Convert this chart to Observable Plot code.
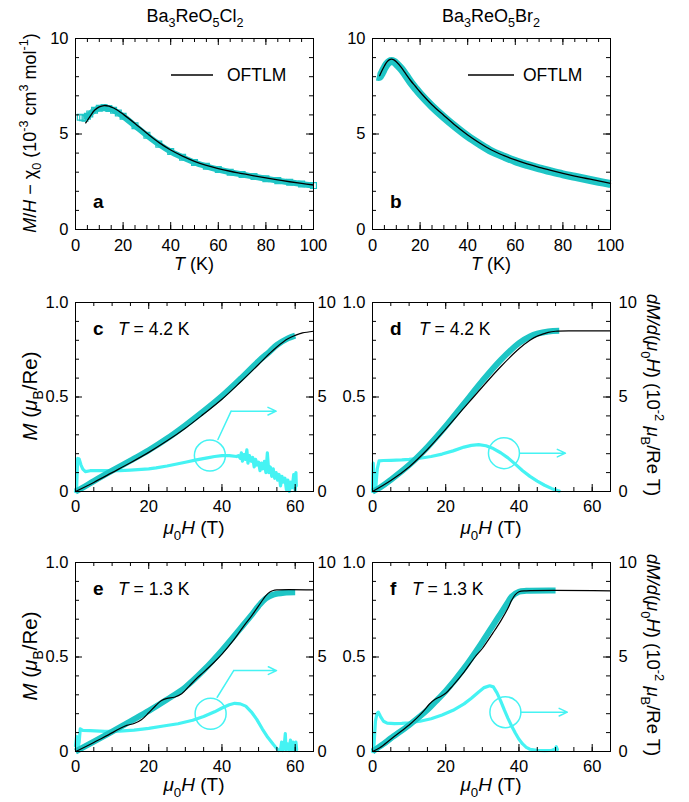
<!DOCTYPE html>
<html><head><meta charset="utf-8">
<script src="https://cdn.jsdelivr.net/npm/d3@7"></script>
<script src="https://cdn.jsdelivr.net/npm/@observablehq/plot@0.6"></script>
<style>
body{margin:0;background:#fff;}
#chart{position:relative;width:689px;height:802px;}
#chart > svg{position:absolute;left:0;top:0;}
</style></head><body><div id="chart"></div>
<script>
// ---------- data ----------
// susceptibility M/H - chi0 (10^-3 cm^3/mol) vs T (K)
const chiClData = [[2,5.88],[3,5.85],[4,5.82],[5,5.93],[6,6.05],[8,6.24],[10,6.35],[12,6.38],[14,6.34],[16,6.24],[18,6.1],[20,5.93],[25,5.43],[30,4.93],[35,4.47],[40,4.08],[45,3.78],[50,3.51],[55,3.31],[60,3.14],[65,3.0],[70,2.88],[75,2.77],[80,2.66],[85,2.56],[90,2.47],[95,2.38],[100,2.3]];
const chiClFit = [[4.3,5.58],[5,5.72],[6,5.9],[8,6.24],[10,6.42],[12,6.49],[14,6.46],[16,6.36],[18,6.22],[20,6.04],[25,5.55],[30,5.04],[35,4.56],[40,4.16],[45,3.84],[50,3.57],[55,3.36],[60,3.19],[65,3.05],[70,2.93],[75,2.81],[80,2.7],[85,2.6],[90,2.5],[95,2.41],[100,2.33]];
const chiBrData = [[1.8,8.0],[3,8.0],[4,8.2],[5,8.45],[6,8.65],[7,8.78],[8,8.82],[9,8.78],[10,8.68],[12,8.42],[14,8.08],[16,7.72],[18,7.4],[20,7.1],[25,6.45],[30,5.88],[35,5.36],[40,4.88],[45,4.47],[50,4.1],[55,3.83],[60,3.58],[65,3.38],[70,3.2],[75,3.04],[80,2.89],[85,2.76],[90,2.63],[95,2.5],[100,2.38]];
const chiBrFit = [[3,8.05],[4,8.32],[5,8.56],[6,8.76],[7,8.88],[8,8.92],[9,8.88],[10,8.78],[12,8.5],[14,8.15],[16,7.8],[18,7.5],[20,7.2],[25,6.53],[30,5.97],[35,5.43],[40,4.95],[45,4.53],[50,4.16],[55,3.88],[60,3.64],[65,3.43],[70,3.25],[75,3.09],[80,2.94],[85,2.8],[90,2.67],[95,2.54],[100,2.42]];

// magnetization M (muB/Re) vs mu0H (T)
const mC = [[0,0],[2,0.02],[5,0.055],[10,0.11],[15,0.163],[20,0.218],[25,0.28],[30,0.35],[35,0.425],[40,0.505],[45,0.595],[50,0.69],[53,0.74],[55,0.775],[58,0.81],[60,0.825]];
const fitC = [[0,0],[5,0.048],[10,0.1],[15,0.152],[20,0.207],[25,0.268],[30,0.335],[35,0.41],[40,0.488],[45,0.578],[50,0.672],[53,0.73],[55,0.765],[58,0.808],[60,0.826],[62,0.839],[65,0.848]];
const mD = [[0,0],[2,0.02],[5,0.062],[10,0.14],[15,0.235],[20,0.345],[25,0.465],[30,0.585],[35,0.695],[40,0.785],[43,0.82],[45,0.835],[48,0.847],[51,0.85]];
const fitD = [[0,0],[5,0.058],[10,0.13],[15,0.222],[20,0.33],[25,0.442],[30,0.553],[35,0.66],[40,0.755],[43,0.8],[45,0.822],[48,0.842],[50,0.848],[55,0.85],[65,0.85]];
const mE = [[0,0],[5,0.052],[10,0.105],[15,0.16],[20,0.215],[25,0.275],[30,0.34],[35,0.43],[40,0.535],[45,0.65],[48,0.72],[50,0.77],[52,0.81],[54,0.83],[57,0.84],[60,0.842]];
const fitE = [[0,0],[3,0.028],[6,0.058],[9,0.088],[12,0.12],[14,0.138],[16,0.148],[18,0.168],[20,0.205],[22,0.245],[23.5,0.27],[25,0.281],[27,0.287],[29,0.305],[31,0.345],[33,0.385],[35,0.42],[38,0.475],[40,0.515],[43,0.585],[46,0.665],[48,0.715],[50,0.77],[52,0.825],[53,0.843],[54,0.852],[55,0.855],[65,0.855]];
const mF = [[0,0],[3,0.04],[5,0.07],[10,0.14],[15,0.22],[18,0.28],[20,0.32],[25,0.44],[30,0.58],[33,0.67],[35,0.73],[37,0.79],[38,0.82],[40,0.845],[42,0.85],[50,0.852]];
const fitF = [[0,0],[2,0.02],[5,0.065],[8,0.11],[10,0.14],[12,0.175],[14,0.215],[15.5,0.25],[17,0.275],[18.5,0.29],[20,0.308],[22,0.35],[25,0.42],[28,0.5],[30,0.545],[33,0.63],[35,0.69],[37,0.758],[38,0.8],[39,0.83],[40,0.845],[42,0.85],[65,0.85]];

// dM/d(mu0H) (10^-2 muB/Re T) vs mu0H (T)
const dmC = [[0,0],[0.3,0.15],[0.6,1.75],[1.0,1.72],[1.5,1.4],[2,1.18],[2.7,1.05],[4,1.1],[6,1.1],[8,1.1],[10,1.1],[12,1.1],[15,1.13],[18,1.17],[20,1.2],[22,1.25],[25,1.35],[28,1.47],[30,1.55],[33,1.67],[36,1.78],[38,1.85],[40,1.9],[42,1.9],[44,1.85],[44.5,1.9],[45,1.75],[45.3,2.05],[45.6,1.6],[46,1.95],[46.4,1.7],[46.8,2.2],[47.1,1.5],[47.5,1.9],[48,1.6],[48.4,1.8],[48.8,1.3],[49.2,1.7],[49.6,1.4],[50,1.55],[50.4,1.1],[50.8,1.5],[51.2,1.2],[51.6,1.6],[52,1.0],[52.4,2.05],[52.8,1.0],[53.2,1.3],[53.6,0.8],[54,1.2],[54.4,0.7],[54.8,1.0],[55.2,0.6],[55.6,0.9],[56,0.3],[56.4,0.8],[56.8,0.5],[57.2,0.7],[57.6,0.1],[58,0.6],[58.4,0.0],[58.8,0.5],[59.2,0.2],[59.6,0.9],[60,0.05],[60.2,1.0],[60.3,0.3]];
const dmD = [[0,0],[0.2,1.5],[0.5,0.4],[0.9,0.2],[1.3,1.2],[1.8,1.62],[3,1.64],[5,1.65],[8,1.67],[10,1.7],[13,1.76],[16,1.85],[19,1.98],[22,2.15],[25,2.35],[27,2.44],[29,2.48],[31,2.42],[33,2.27],[35,2.05],[37,1.78],[39,1.45],[41,1.1],[43,0.8],[45,0.55],[47,0.33],[49,0.15],[50.5,0.05],[51,0.02]];
const dmE = [[0,0.3],[0.3,0.8],[0.6,0.15],[1.0,0.5],[1.3,1.2],[2,1.12],[4,1.1],[8,1.07],[12,1.08],[16,1.13],[20,1.22],[24,1.35],[28,1.47],[32,1.65],[35,1.85],[38,2.1],[40,2.3],[42,2.47],[43.5,2.55],[45,2.52],[46.5,2.4],[48,2.1],[49.5,1.7],[51,1.2],[52.5,0.75],[54,0.38],[55,0.15],[55.5,0.05],[56,0.1],[56.3,0.5],[56.6,0.05],[57,0.3],[57.3,0.95],[57.5,0.1],[58,0.4],[58.3,0.05],[58.7,0.6],[59,0.1],[59.4,0.5],[59.8,0.05],[60.2,0.5],[60.4,0.1]];
const dmF = [[0,0],[0.4,0.3],[0.8,1.6],[1.2,2.0],[1.6,2.08],[2.2,1.85],[3,1.6],[4,1.5],[6,1.47],[8,1.49],[10,1.52],[13,1.6],[16,1.73],[19,1.93],[22,2.18],[25,2.52],[27,2.82],[29,3.15],[30.5,3.38],[32,3.48],[33,3.42],[34,3.1],[35,2.68],[36,2.2],[37,1.75],[38,1.35],[39,0.98],[40,0.65],[41,0.4],[42,0.22],[43,0.12],[45,0.06],[47,0.05],[49,0.06],[49.8,0.12],[50.2,0.25],[50.5,0.1]];

// annotation anchors (data units, right axis): circle centre, leader, arrow
const annC = {circle:[36.7,1.9], leader:[[38.9,2.75],[42.5,4.25]], arrow:[42.5,4.25,54.8,4.25]};
const annD = {circle:[35.9,2.03], leader:[], arrow:[40.3,2.03,52.7,2.03]};
const annE = {circle:[36.9,2.0], leader:[[38.7,2.87],[43.2,4.28]], arrow:[43.2,4.28,54.9,4.28]};
const annF = {circle:[36.3,2.08], leader:[], arrow:[40.5,2.08,53.2,2.08]};

// ticks
const tTicks = [0,20,40,60,80,100];
const chiTicks = [0,5,10];
const hTicks = [0,20,40,60];
const mTicks = [0,0.5,1.0];

// ---------- layout ----------
const W = 689, Hh = 802;
const frames = {
  a:{x0:75,x1:313,y0:38,y1:229}, b:{x0:372,x1:610,y0:38,y1:229},
  c:{x0:75,x1:313,y0:302,y1:491}, d:{x0:372,x1:610,y0:302,y1:491},
  e:{x0:75,x1:313,y0:562,y1:751}, f:{x0:372,x1:610,y0:562,y1:751}
};
const teal = "#1ec5c5", cyan = "#45f3f3";
const FONT = "'Liberation Sans', Arial, Helvetica, sans-serif";

function panel(fr, o) {
  const pw = fr.x1 - fr.x0, ph = fr.y1 - fr.y0;
  const maj = 7, mn = 4;
  const tk = (xs, ys, len) => [
    Plot.tickX(xs, {x: d => d, insetTop: ph - len, stroke: "black"}),
    Plot.tickX(xs, {x: d => d, insetBottom: ph - len, stroke: "black"}),
    Plot.tickY(ys, {y: d => d, insetRight: pw - len, stroke: "black"}),
    Plot.tickY(ys, {y: d => d, insetLeft: pw - len, stroke: "black"})
  ];
  return Plot.plot({
    width: W, height: Hh,
    marginLeft: fr.x0, marginRight: W - fr.x1, marginTop: fr.y0, marginBottom: Hh - fr.y1,
    x: {domain: o.xDomain}, y: {domain: o.yDomain},
    style: {fontFamily: FONT, fontSize: "16.5px", background: "transparent", overflow: "visible", color: "black"},
    marks: [
      ...o.marks,
      ...tk(o.xMinor, o.yMinor, mn),
      ...tk(o.xMajor, o.yMajor, maj),
      Plot.frame({stroke: "black", strokeWidth: 1}),
      Plot.axisX({ticks: o.xMajor, tickSize: 0, tickPadding: o.xPad, label: null}),
      Plot.axisY({ticks: o.yMajor, anchor: "left", tickSize: 0, tickPadding: 7, label: null, tickFormat: o.yFmt}),
      ...(o.right ? [Plot.axisY({ticks: o.yMajor, anchor: "right", tickSize: 0, tickPadding: o.rPad, label: null, tickFormat: d => String(Math.round(d * 10))})] : [])
    ]
  });
}

function chiMarks(data, fit, bandW, squares) {
  return [
    Plot.line(data.filter(d => d[0] >= (squares ? 4 : 0)), {stroke: teal, strokeWidth: bandW, curve: "catmull-rom", strokeLinecap: "butt"}),
    ...(squares ? [Plot.dot(data, {symbol: "square", r: 3.3, stroke: teal, strokeWidth: 1.2, fill: "none"})] : []),
    Plot.line(fit, {stroke: "black", strokeWidth: 1.3, curve: "catmull-rom"})
  ];
}
function mhMarks(m, fit, dm, ann) {
  return [
    Plot.line(dm, {x: d => d[0], y: d => d[1] / 10, stroke: cyan, strokeWidth: 3.2}),
    Plot.line(m, {stroke: teal, strokeWidth: 6, curve: "catmull-rom", strokeLinecap: "butt"}),
    Plot.line(fit, {stroke: "black", strokeWidth: 1.2, curve: "catmull-rom"}),
    Plot.dot([ann.circle], {x: d => d[0], y: d => d[1] / 10, r: 15.5, stroke: cyan, strokeWidth: 1.5, fill: "none"}),
    ...(ann.leader.length ? [Plot.line(ann.leader, {x: d => d[0], y: d => d[1] / 10, stroke: cyan, strokeWidth: 1.5})] : []),
    Plot.arrow([ann.arrow], {x1: d => d[0], y1: d => d[1] / 10, x2: d => d[2], y2: d => d[3] / 10, stroke: cyan, strokeWidth: 1.5, headLength: 9, headAngle: 50})
  ];
}

const chiOpt = {xDomain: [0,100], yDomain: [0,10], xMajor: tTicks, xMinor: d3.range(0,101,5), yMajor: chiTicks, yMinor: d3.range(0,11,1), xPad: 10};
const mOpt = {xDomain: [0,65], yDomain: [0,1], xMajor: hTicks, xMinor: d3.range(0,66,5), yMajor: mTicks, yMinor: d3.range(0,11,1).map(i => i / 10), xPad: 9, right: true,
  yFmt: d => d === 0 ? "0" : d3.format(".1f")(d)};

const chart = document.getElementById("chart");
chart.append(panel(frames.a, {...chiOpt, marks: chiMarks(chiClData, chiClFit, 6, true)}));
chart.append(panel(frames.b, {...chiOpt, marks: chiMarks(chiBrData, chiBrFit, 8, false)}));
chart.append(panel(frames.c, {...mOpt, rPad: 4, marks: mhMarks(mC, fitC, dmC, annC)}));
chart.append(panel(frames.d, {...mOpt, rPad: 8, marks: mhMarks(mD, fitD, dmD, annD)}));
chart.append(panel(frames.e, {...mOpt, rPad: 4, marks: mhMarks(mE, fitE, dmE, annE)}));
chart.append(panel(frames.f, {...mOpt, rPad: 8, marks: mhMarks(mF, fitF, dmF, annF)}));

// ---------- text overlay ----------
function rich(parts, size) {
  let shift = 0, out = "";
  for (const [t, k] of parts) {
    const target = k === "sub" ? 0.3 * size : k === "sup" ? -0.42 * size : 0;
    const dy = +(target - shift).toFixed(2); shift = target;
    const a = [];
    if (dy) a.push(`dy="${dy}"`);
    if (k === "sub" || k === "sup") a.push(`font-size="${(0.7 * size).toFixed(1)}"`);
    if (k === "i") a.push(`font-style="italic"`);
    if (k === "b") a.push(`font-weight="bold"`);
    out += `<tspan ${a.join(" ")}>${t}</tspan>`;
  }
  return out;
}
function txt(x, y, parts, {size = 17.5, anchor = "start", rotate = 0} = {}) {
  const pos = rotate ? `transform="translate(${x},${y}) rotate(${rotate})"` : `x="${x}" y="${y}"`;
  return `<text ${pos} font-size="${size}" text-anchor="${anchor}">${rich(parts, size)}</text>`;
}
const N = "", I = "i", B = "b";
const muH = [["μ",I],["0","sub"],["H",I],[" (T)",N]];
const mLab = [["M",I],[" (",N],["μ",I],["B","sub"],["/Re)",N]];
const dmLab = [["dM",I],["/",I],["d",I],["(",N],["μ",I],["0","sub"],["H",I],[") (10",N],["-2","sup"],["  ",N],["μ",I],["B","sub"],["/Re T)",N]];
const texts = [
  txt(195, 22, [["Ba",N],["3","sub"],["ReO",N],["5","sub"],["Cl",N],["2","sub"]], {size: 18, anchor: "middle"}),
  txt(491, 22, [["Ba",N],["3","sub"],["ReO",N],["5","sub"],["Br",N],["2","sub"]], {size: 18, anchor: "middle"}),
  txt(36, 133, [["M",I],["/",N],["H",I],[" − χ",N],["0","sub"],[" (10",N],["-3","sup"],[" cm",N],["3","sup"],[" mol",N],["-1","sup"],[")",N]], {anchor: "middle", rotate: -90, size: 18}),
  txt(194, 270, [["T",I],[" (K)",N]], {anchor: "middle", size: 18}),
  txt(491, 270, [["T",I],[" (K)",N]], {anchor: "middle", size: 18}),
  txt(37, 396, mLab, {anchor: "middle", rotate: -90, size: 20.5}),
  txt(37, 656, mLab, {anchor: "middle", rotate: -90, size: 20.5}),
  txt(647, 395, dmLab, {anchor: "middle", rotate: 90, size: 18.5}),
  txt(647, 655, dmLab, {anchor: "middle", rotate: 90, size: 18.5}),
  txt(194, 534, muH, {anchor: "middle", size: 19}), txt(491, 534, muH, {anchor: "middle", size: 19}),
  txt(194, 791, muH, {anchor: "middle", size: 19}), txt(491, 791, muH, {anchor: "middle", size: 19}),
  txt(227, 81, [["OFTLM",N]]), txt(523, 81, [["OFTLM",N]]),
  txt(93, 208, [["a",B]], {size: 19}), txt(390, 208, [["b",B]], {size: 19}),
  txt(93, 335, [["c",B]], {size: 19}), txt(118, 335, [["T",I],[" = 4.2 K",N]]),
  txt(390, 335, [["d",B]], {size: 19}), txt(419, 335, [["T",I],[" = 4.2 K",N]]),
  txt(93, 595, [["e",B]], {size: 19}), txt(118, 595, [["T",I],[" = 1.3 K",N]]),
  txt(390, 595, [["f",B]], {size: 19}), txt(412, 595, [["T",I],[" = 1.3 K",N]]),
  `<line x1="171" y1="75" x2="213" y2="75" stroke="black" stroke-width="1.3"/>`,
  `<line x1="468" y1="75" x2="514" y2="75" stroke="black" stroke-width="1.3"/>`
];
const ov = document.createElementNS("http://www.w3.org/2000/svg", "svg");
ov.setAttribute("width", W); ov.setAttribute("height", Hh);
ov.setAttribute("font-family", FONT);
ov.innerHTML = texts.join("");
chart.append(ov);
</script></body></html>
